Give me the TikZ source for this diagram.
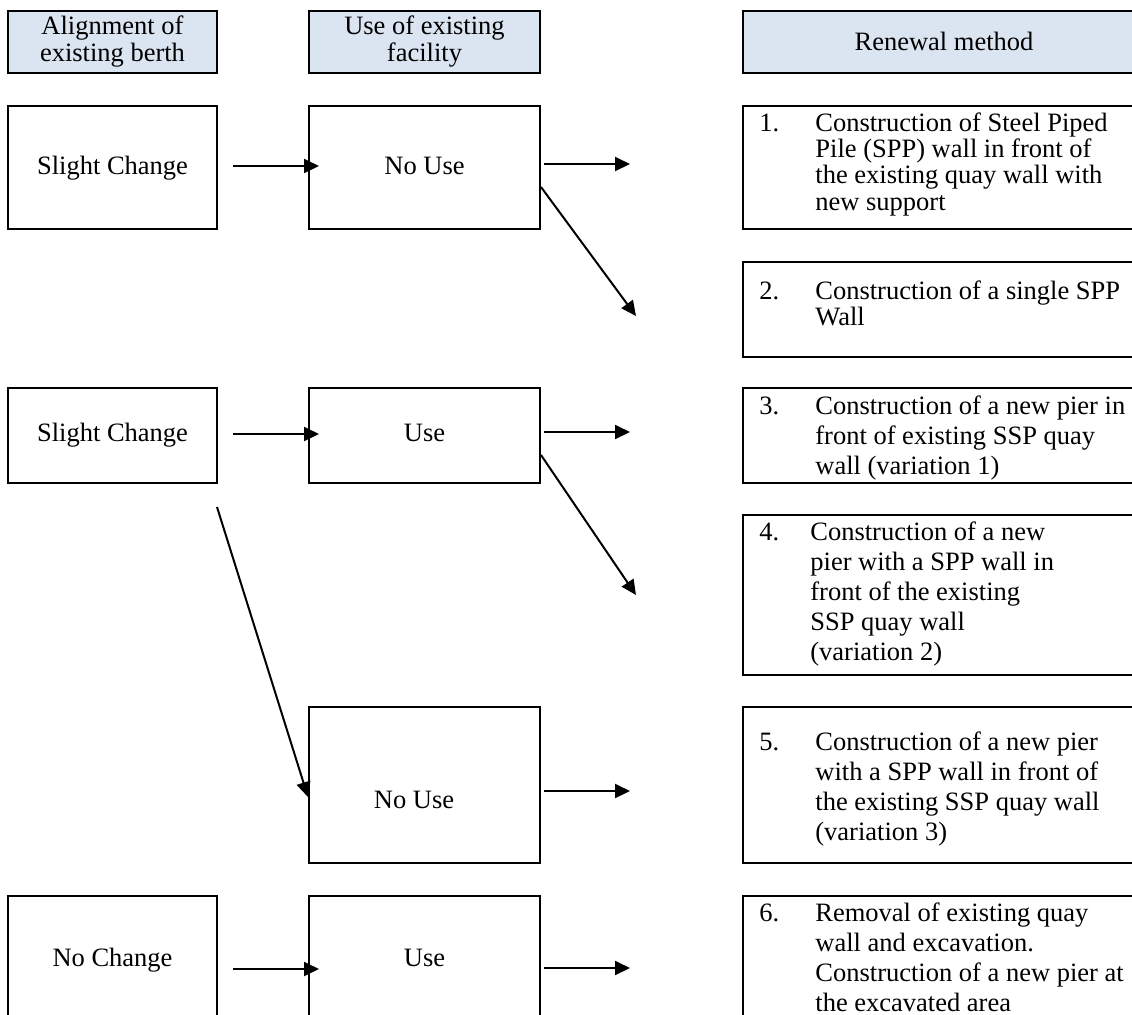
\documentclass[tikz,border=0pt]{standalone}
\usepackage{fontspec}
\setmainfont{Liberation Serif}
\usepackage{tikz}
\usetikzlibrary{arrows.meta}
\usetikzlibrary{calc}

\definecolor{headblue}{HTML}{DBE5F1}
\newcommand{\headfont}{\fontsize{13.25pt}{13.5pt}\selectfont\lineskiplimit=-20pt}
\newcommand{\stepfont}{\fontsize{13.25pt}{15pt}\selectfont\lineskiplimit=-20pt}
\newcommand{\tightfont}{\fontsize{13.25pt}{13.2pt}\selectfont\lineskiplimit=-20pt}
\newcommand{\numlabel}[1]{\makebox[28pt][l]{#1}}
\newcommand{\indentgap}{\hspace*{28pt}}

\begin{document}
\begin{tikzpicture}[x=0.5pt, y=-0.5pt]
	\clip (0,0) rectangle (1132,1014);
	\begin{scope}[every node/.style = {rectangle, draw, line width=1pt, fill=headblue, minimum height=31pt}]
		\node[minimum width=104.5pt] (H1) at (112.5,42) {};
		\node[minimum width=115.5pt] (H2) at (424.5,42) {};
		\node[minimum width=201pt] (H3) at (944,42) {};
	\end{scope}
	\begin{scope}[every node/.style = {rectangle, draw, line width=1pt}]
		% alignment column
		\node[minimum width=104.5pt, minimum height=61.5pt] (A1) at (112.5,167.5) {};
		\node[minimum width=104.5pt, minimum height=47.5pt] (A2) at (112.5,435.5) {};
		\node[minimum width=104.5pt, minimum height=72pt] (A3) at (112.5,968) {};
		% use column
		\node[minimum width=115.5pt, minimum height=61.5pt] (U1) at (424.5,167.5) {};
		\node[minimum width=115.5pt, minimum height=47.5pt] (U2) at (424.5,435.5) {};
		\node[minimum width=115.5pt, minimum height=78pt] (U3) at (424.5,785) {};
		\node[minimum width=115.5pt, minimum height=72pt] (U4) at (424.5,968) {};
		% renewal methods
		\node[minimum width=201pt, minimum height=61.5pt] (M1) at (944,167.5) {};
		\node[minimum width=201pt, minimum height=47.5pt] (M2) at (944,309.5) {};
		\node[minimum width=201pt, minimum height=47.5pt] (M3) at (944,435.5) {};
		\node[minimum width=201pt, minimum height=80pt] (M4) at (944,595) {};
		\node[minimum width=201pt, minimum height=78pt] (M5) at (944,785) {};
		\node[minimum width=201pt, minimum height=72pt] (M6) at (944,968) {};
	\end{scope}
	\begin{scope}[every node/.style = {inner sep=0pt, font=\stepfont}]
		\node[anchor=north, align=center, font=\headfont] (TH1) at (112.5,15) {Alignment of\\existing berth};
		\node[anchor=north, align=center, font=\headfont] (TH2) at (424.5,15) {Use of existing\\facility};
		\node[anchor=base] (TH3) at (944,50) {Renewal method};
		\node[anchor=base] (TA1) at (112.5,174) {Slight Change};
		\node[anchor=base] (TA2) at (112.5,441) {Slight Change};
		\node[anchor=base] (TA3) at (112.5,966) {No Change};
		\node[anchor=base] (TU1) at (424.5,174) {No Use};
		\node[anchor=base] (TU2) at (424.5,441) {Use};
		\node[anchor=base] (TU3) at (414,808) {No Use};
		\node[anchor=base] (TU4) at (424.5,966) {Use};
		\node[anchor=north west, align=left, font=\tightfont] (TM1) at (759,112) {\numlabel{1.}Construction of Steel Piped\\\indentgap Pile (SPP) wall in front of\\\indentgap the existing quay wall with\\\indentgap new support};
		\node[anchor=north west, align=left, font=\tightfont] (TM2) at (759,280) {\numlabel{2.}Construction of a single SPP\\\indentgap Wall};
		\node[anchor=north west, align=left] (TM3) at (759,395) {\numlabel{3.}Construction of a new pier in\\\indentgap front of existing SSP quay\\\indentgap wall (variation 1)};
		\node[anchor=north west, align=left] (TM4) at (759,521) {\makebox[25.5pt][l]{4.}Construction of a new\\\hspace*{25.5pt}pier with a SPP wall in\\\hspace*{25.5pt}front of the existing\\\hspace*{25.5pt}SSP quay wall\\\hspace*{25.5pt}(variation 2)};
		\node[anchor=north west, align=left] (TM5) at (759,731) {\numlabel{5.}Construction of a new pier\\\indentgap with a SPP wall in front of\\\indentgap the existing SSP quay wall\\\indentgap (variation 3)};
		\node[anchor=north west, align=left] (TM6) at (759,902) {\numlabel{6.}Removal of existing quay\\\indentgap wall and excavation.\\\indentgap Construction of a new pier at\\\indentgap the excavated area};
	\end{scope}
	\begin{scope}[>={Triangle[length=7.5pt, width=7pt]},
			every edge/.style={draw=black, line width=1pt}]
		\path [->] ($(A1.east)+(15,-1.5)$) edge ($(U1.west)+(11,-1.5)$);
		\path [->] ($(U1.east)+(3,-3.5)$) edge ($(M1.west)+(-112,-3.5)$);
		\path [->] ($(U1.east)+(0,19.5)$) edge ($(M2.west)+(-106,6.5)$);
		\path [->] ($(A2.east)+(15,-1.5)$) edge ($(U2.west)+(11,-1.5)$);
		\path [->] ($(U2.east)+(3,-3.5)$) edge ($(M3.west)+(-112,-3.5)$);
		\path [->] ($(U2.east)+(0,19.5)$) edge ($(M4.west)+(-106,0)$);
		\path [->] ($(A2.south east)+(-1,23)$) edge ($(U3.west)+(0,12)$);
		\path [->] ($(U3.east)+(3,6)$) edge ($(M5.west)+(-112,6)$);
		\path [->] ($(A3.east)+(15,1)$) edge ($(U4.west)+(11,1)$);
		\path [->] ($(U4.east)+(3,0)$) edge ($(M6.west)+(-112,0)$);
	\end{scope}
\end{tikzpicture}
\end{document}
